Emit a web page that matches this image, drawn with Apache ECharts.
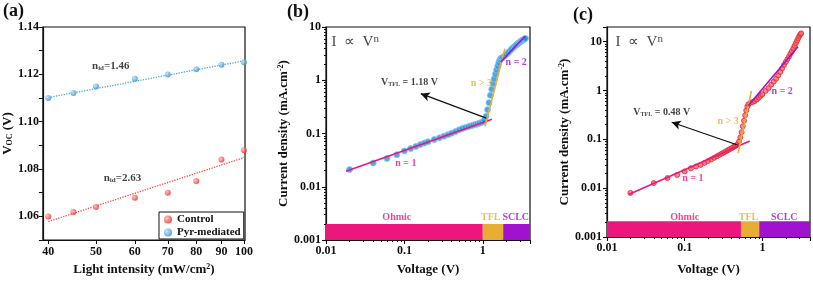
<!DOCTYPE html>
<html><head><meta charset="utf-8">
<script src="https://cdn.jsdelivr.net/npm/echarts@6/dist/echarts.min.js"></script>
<style>html,body{margin:0;padding:0;background:#fff}#c{width:813px;height:281px}</style>
</head><body><div id="c"></div>
<script>
// ---------- Panel (a) data ----------
const intensity = [40, 45, 50, 60, 70, 80, 90, 100];
const vocControl = [1.0599, 1.0618, 1.0639, 1.0679, 1.0700, 1.0749, 1.0840, 1.0879];
const vocPyr = [1.1100, 1.1121, 1.1149, 1.1181, 1.1199, 1.1222, 1.1241, 1.1251];
const fitControl = [[40, 1.0578], [100, 1.0848]];
const fitPyr = [[40, 1.1102], [100, 1.1257]];
const xTicksA = [40, 50, 60, 70, 80, 90, 100];

// ---------- Panel (b) data ----------
const voltB = [0.02,0.04,0.06,0.08,0.10,0.12,0.14,0.16,0.18,0.20,0.24,0.28,0.32,0.36,0.40,0.45,0.50,0.55,0.60,0.65,0.70,0.75,0.80,0.85,0.90,0.95,1.00,1.05,1.10,1.15,1.20,1.25,1.30,1.35,1.40,1.45,1.50,1.55,1.60,1.65,1.70,1.75,1.80,1.90,2.00,2.10,2.20,2.30,2.40,2.50,2.60,2.70,2.80,2.90,3.00,3.10,3.20,3.30,3.40,3.50];
const currB = [0.021,0.028,0.034,0.040,0.047,0.052,0.057,0.062,0.066,0.070,0.077,0.083,0.089,0.095,0.101,0.109,0.117,0.124,0.129,0.134,0.139,0.143,0.147,0.151,0.156,0.160,0.166,0.178,0.21,0.28,0.38,0.52,0.68,0.86,1.06,1.30,1.56,1.85,2.15,2.40,2.55,2.62,2.68,2.85,3.05,3.28,3.52,3.76,4.00,4.22,4.45,4.66,4.87,5.07,5.27,5.46,5.62,5.80,5.95,6.10];
const fitB_n1 = [[0.018, 0.0195], [1.31, 0.186]];
const fitB_n3 = [[1.07, 0.137], [1.91, 3.9]];
const fitB_n2 = [[1.69, 2.2], [3.46, 6.7]];
const arrowB = [[1.15, 0.19], [0.162, 0.56]];
const regionBoundsB = [0.01, 1.0, 1.82, 4];

// ---------- Panel (c) data ----------
const voltC = [0.02,0.04,0.06,0.08,0.10,0.12,0.14,0.16,0.18,0.20,0.22,0.24,0.26,0.28,0.30,0.32,0.34,0.36,0.38,0.40,0.42,0.44,0.46,0.48,0.50,0.52,0.54,0.56,0.58,0.60,0.62,0.64,0.66,0.70,0.75,0.80,0.85,0.90,0.95,1.00,1.10,1.20,1.30,1.40,1.50,1.60,1.70,1.80,1.90,2.00,2.10,2.20,2.30,2.40,2.50,2.60,2.70,2.80,2.90,3.00,3.10,3.16];
const currC = [0.008,0.0127,0.0161,0.0187,0.022,0.0255,0.0278,0.030,0.033,0.036,0.039,0.042,0.045,0.048,0.051,0.054,0.057,0.060,0.063,0.066,0.069,0.072,0.075,0.079,0.090,0.110,0.140,0.185,0.24,0.31,0.39,0.47,0.52,0.56,0.58,0.61,0.66,0.72,0.78,0.84,0.98,1.12,1.32,1.52,1.75,2.05,2.40,2.85,3.35,3.85,4.40,5.0,5.7,6.4,7.3,8.3,9.4,10.6,11.9,13.2,14.3,14.8];
const fitC_n1 = [[0.019, 0.0074], [0.687, 0.0925]];
const fitC_n3 = [[0.488, 0.053], [0.723, 0.98]];
const fitC_n2 = [[0.656, 0.486], [2.87, 7.9]];
const arrowC = [[0.488, 0.0757], [0.068, 0.224]];
const regionBoundsC = [0.01, 0.53, 0.91, 4.1];

const regionNames = ['Ohmic', 'TFL', 'SCLC'];
const barBottom = 0.001, barTopB = 0.002, barTopC = 0.0021;

// minor tick positions on the log axes
const minorTicksV = [0.02,0.03,0.04,0.05,0.06,0.07,0.08,0.09,0.2,0.3,0.4,0.5,0.6,0.7,0.8,0.9,2,3];
const minorTicksJ = [0.002,0.003,0.004,0.005,0.006,0.007,0.008,0.009,0.02,0.03,0.04,0.05,0.06,0.07,0.08,0.09,0.2,0.3,0.4,0.5,0.6,0.7,0.8,0.9,2,3,4,5,6,7,8,9];

// ---------- styles ----------
const SERIF = "'Liberation Serif','Times New Roman',serif";
const PINK = '#ec177c', ORANGE = '#e8ad35', PURPLE = '#a012cf';
const regionColors = [PINK, ORANGE, PURPLE];

function radial(light, dark) {
  return {type: 'radial', x: 0.35, y: 0.35, r: 0.75,
    colorStops: [{offset: 0, color: light}, {offset: 1, color: dark}]};
}
function richFor(size, color) {
  return {
    sub: {fontSize: Math.round(size * 0.62), fontWeight: 'bold', fontFamily: SERIF, color: color, verticalAlign: 'bottom', padding: [Math.round(size*0.35), 0, 0, 0]},
    sup: {fontSize: Math.round(size * 0.65), fontWeight: 'bold', fontFamily: SERIF, color: color, verticalAlign: 'top', padding: [0, 0, Math.round(size*0.4), 0]},
    supn: {fontSize: Math.round(size * 0.7), fontFamily: SERIF, color: color, verticalAlign: 'top', padding: [0, 0, Math.round(size*0.4), 0]}
  };
}

function note(x, y, text, color, size, opts) {
  opts = opts || {};
  return {value: [x, y], label: {show: true, formatter: text, position: opts.position || 'inside',
    distance: 0, color: color, fontSize: size, fontWeight: opts.weight || 'bold', fontFamily: SERIF,
    rich: richFor(size, color)}};
}
function notesSeries(xi, yi, items) {
  return {type: 'scatter', xAxisIndex: xi, yAxisIndex: yi, symbolSize: 1, silent: true, z: 20,
    itemStyle: {color: 'transparent'}, data: items};
}
function fitLine(xi, yi, data, color, width, type) {
  return {type: 'line', xAxisIndex: xi, yAxisIndex: yi, data: data, symbol: 'none', silent: true, z: 5,
    lineStyle: {color: color, width: width, type: type || 'solid'}};
}
function regionArea(bounds, top) {
  return regionNames.map((n, i) => [
    {coord: [bounds[i], barBottom], itemStyle: {color: regionColors[i], opacity: 1}},
    {coord: [bounds[i + 1], top]}
  ]);
}
function arrowSeries(xi, yi, arr) {
  return {type: 'line', xAxisIndex: xi, yAxisIndex: yi, data: [], silent: true,
    markLine: {silent: true, symbol: ['none', 'arrow'], symbolSize: [7, 9], animation: false,
      label: {show: false}, lineStyle: {color: '#111', width: 1.3, type: 'solid'},
      data: [[{coord: arr[0]}, {coord: arr[1]}]]}};
}

const tickLabel = {fontFamily: SERIF, fontWeight: 'bold', fontSize: 12, color: '#111'};
const axisNameStyle = (size) => ({fontFamily: SERIF, fontWeight: 'bold', fontSize: size, color: '#111', rich: richFor(size, '#111')});
function logFmt(v) {
  const l = Math.log10(v);
  if (Math.abs(l - Math.round(l)) > 1e-6) return '';
  const p = Math.round(l);
  return p >= 0 ? String(Math.pow(10, p)) : (Math.pow(10, p)).toFixed(-p);
}
function logAxis(gi, min, max, name, gap) {
  return {type: 'log', gridIndex: gi, min: min, max: max, logBase: 10,
    name: name, nameLocation: 'middle', nameGap: gap, nameTextStyle: axisNameStyle(13),
    axisLine: {show: true, lineStyle: {color: '#111', width: 1.2}},
    axisTick: {show: true, length: 4, lineStyle: {color: '#111', width: 1.1}},
    minorTick: {show: false},
    axisLabel: Object.assign({formatter: logFmt, margin: 5, showMinLabel: true, showMaxLabel: true}, tickLabel),
    splitLine: {show: false}};
}
function minorAxis(gi, min, max, ticks, position) {
  return {type: 'log', gridIndex: gi, min: min, max: max, logBase: 10, position: position, offset: 0,
    axisLine: {show: false}, axisLabel: {show: false}, splitLine: {show: false},
    axisTick: {show: true, length: 2, customValues: ticks, lineStyle: {color: '#111', width: 1}}};
}

const option = {
  animation: false,
  backgroundColor: '#fff',
  title: [
    {text: '(a)', left: 3, top: 2, padding: 0, textStyle: {fontFamily: SERIF, fontWeight: 'bold', fontSize: 18, color: '#111'}},
    {text: '(b)', left: 287, top: 3, padding: 0, textStyle: {fontFamily: SERIF, fontWeight: 'bold', fontSize: 18, color: '#111'}},
    {text: '(c)', left: 573, top: 6, padding: 0, textStyle: {fontFamily: SERIF, fontWeight: 'bold', fontSize: 18, color: '#111'}}
  ],
  legend: {
    data: ['Control', 'Pyr-mediated'], orient: 'vertical', left: 159, top: 212,
    itemWidth: 8, itemHeight: 8, itemGap: 2, padding: [2, 3, 1, 5],
    borderColor: '#111', borderWidth: 1, backgroundColor: '#fff',
    textStyle: {fontFamily: SERIF, fontWeight: 'bold', fontSize: 11, color: '#111'}
  },
  grid: [
    {left: 41, top: 27, width: 204, height: 213, show: true, borderColor: '#111', borderWidth: 1.2, backgroundColor: 'transparent'},
    {left: 326, top: 27, width: 204, height: 213, show: true, borderColor: '#111', borderWidth: 1.2, backgroundColor: 'transparent'},
    {left: 607, top: 27, width: 204, height: 213, show: true, borderColor: '#111', borderWidth: 1.2, backgroundColor: 'transparent'}
  ],
  xAxis: [
    {type: 'log', gridIndex: 0, min: 39, max: 100.5,
      name: 'Light intensity (mW/cm{sup|2})', nameLocation: 'middle', nameGap: 20, nameTextStyle: axisNameStyle(13),
      axisLine: {show: true, lineStyle: {color: '#111', width: 1.2}},
      axisTick: {show: true, length: 4, customValues: xTicksA, lineStyle: {color: '#111'}},
      axisLabel: Object.assign({customValues: xTicksA, margin: 6}, tickLabel),
      splitLine: {show: false}},
    logAxis(1, 0.01, 4, 'Voltage (V)', 23),
    logAxis(2, 0.01, 4.1, 'Voltage (V)', 26),
    minorAxis(1, 0.01, 4, minorTicksV, 'bottom'),
    minorAxis(2, 0.01, 4.1, minorTicksV, 'bottom')
  ],
  yAxis: [
    {type: 'value', gridIndex: 0, min: 1.05, max: 1.14, interval: 0.01,
      name: 'V{sub|OC} (V)', nameLocation: 'middle', nameGap: 24, nameTextStyle: axisNameStyle(13),
      axisLine: {show: true, lineStyle: {color: '#111', width: 1.2}},
      axisTick: {show: true, length: 4, lineStyle: {color: '#111'}},
      axisLabel: Object.assign({margin: 4, formatter: v => (Math.round(v * 100) % 2 === 0 ? v.toFixed(2) : '')}, tickLabel),
      splitLine: {show: false}},
    logAxis(1, 0.001, 10, 'Current density (mA.cm{sup|-2})', 31),
    logAxis(2, 0.001, 20, 'Current density (mA.cm{sup|-2})', 34),
    minorAxis(1, 0.001, 10, minorTicksJ, 'left'),
    minorAxis(2, 0.001, 20, minorTicksJ, 'left')
  ],
  series: [
    // ----- (a)
    {name: 'Control', type: 'scatter', xAxisIndex: 0, yAxisIndex: 0, symbolSize: 6, z: 10,
      itemStyle: {color: radial('#ffb3b3', '#ee1c1c')},
      data: intensity.map((x, i) => [x, vocControl[i]])},
    {name: 'Pyr-mediated', type: 'scatter', xAxisIndex: 0, yAxisIndex: 0, symbolSize: 6, z: 10,
      itemStyle: {color: radial('#b8e2ff', '#2a83c8')},
      data: intensity.map((x, i) => [x, vocPyr[i]])},
    fitLine(0, 0, fitControl, '#f04848', 1.3, 'dotted'),
    fitLine(0, 0, fitPyr, '#4aa6df', 1.3, 'dotted'),
    notesSeries(0, 0, [
      note(53.6, 1.1236, 'n{sub|id}=1.46', '#111', 11),
      note(56.6, 1.0760, 'n{sub|id}=2.63', '#111', 11)
    ]),
    // ----- (b)
    {type: 'scatter', xAxisIndex: 1, yAxisIndex: 1, symbolSize: 6, z: 4,
      itemStyle: {color: '#2a8fd8', borderColor: '#7cc9f2', borderWidth: 1},
      data: voltB.map((v, i) => [v, currB[i]]),
      markArea: {silent: true, data: regionArea(regionBoundsB, barTopB)}},
    fitLine(1, 1, fitB_n1, PINK, 1.6),
    fitLine(1, 1, fitB_n3, ORANGE, 1.6),
    fitLine(1, 1, fitB_n2, PURPLE, 1.6),
    arrowSeries(1, 1, arrowB),
    notesSeries(1, 1, [
      note(0.0116, 5.2, 'I  ∝  V{supn|n}', '#111', 15, {position: 'right', weight: 'normal'}),
      note(0.1045, 0.0279, 'n = 1', PINK, 10),
      note(0.957, 0.887, 'n > 3', ORANGE, 10),
      note(2.67, 2.2, 'n = 2', PURPLE, 10),
      note(0.116, 0.927, 'V{sub|TFL} = 1.18 V', '#111', 10),
      note(0.080, 0.0027, 'Ohmic', PINK, 10),
      note(1.265, 0.0027, 'TFL', ORANGE, 10),
      note(2.63, 0.0027, 'SCLC', PURPLE, 10)
    ]),
    // ----- (c)
    {type: 'scatter', xAxisIndex: 2, yAxisIndex: 2, symbolSize: 5, z: 4,
      itemStyle: {color: '#f46a6a', borderColor: '#e8202c', borderWidth: 1},
      data: voltC.map((v, i) => [v, currC[i]]),
      markArea: {silent: true, data: regionArea(regionBoundsC, barTopC)}},
    fitLine(2, 2, fitC_n1, PINK, 1.6),
    fitLine(2, 2, fitC_n3, ORANGE, 1.6),
    fitLine(2, 2, fitC_n2, PURPLE, 1.6),
    arrowSeries(2, 2, arrowC),
    notesSeries(2, 2, [
      note(0.0127, 10, 'I  ∝  V{supn|n}', '#111', 15, {position: 'right', weight: 'normal'}),
      note(0.127, 0.01556, 'n = 1', PINK, 10),
      note(0.361, 0.231, 'n > 3', ORANGE, 10),
      note(1.80, 0.977, 'n = 2', PURPLE, 10),
      note(0.0507, 0.351, 'V{sub|TFL} = 0.48 V', '#111', 10),
      note(0.1, 0.00254, 'Ohmic', PINK, 10),
      note(0.662, 0.00254, 'TFL', ORANGE, 10),
      note(1.91, 0.00254, 'SCLC', PURPLE, 10)
    ])
  ]
};
const chart = echarts.init(document.getElementById('c'), null, {renderer: 'canvas'});
chart.setOption(option);
</script></body></html>
